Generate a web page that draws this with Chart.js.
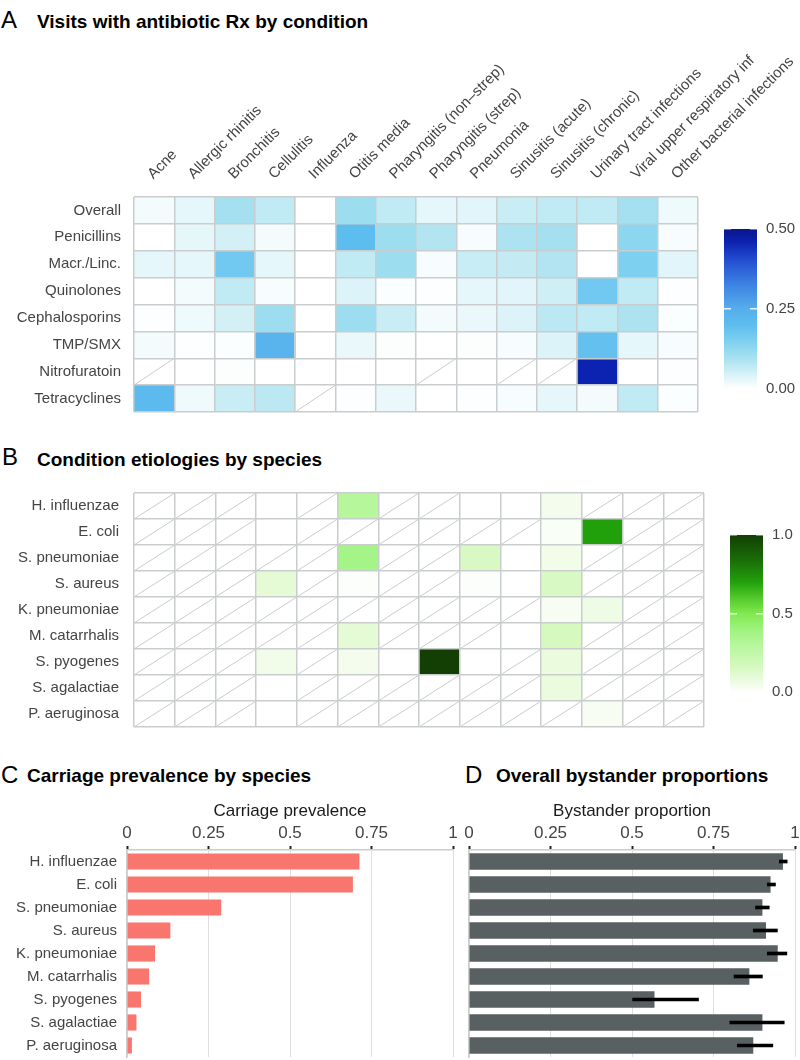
<!DOCTYPE html>
<html><head><meta charset="utf-8">
<script src="https://cdn.jsdelivr.net/npm/chart.js@4.4.1/dist/chart.umd.min.js"></script>
<style>
html,body{margin:0;padding:0;background:#fff;}
#fig{position:relative;width:800px;height:1060px;overflow:hidden;background:#fff;font-family:'Liberation Sans',Arial,Helvetica,sans-serif;}
canvas{position:absolute;}
.lbl{position:absolute;font-size:24px;line-height:1;color:#000;white-space:nowrap;}
.ttl{position:absolute;font-size:19px;font-weight:bold;line-height:1;color:#000;white-space:nowrap;}
</style></head><body>
<div id="fig">
  <div class="lbl" style="left:1px;top:7.7px">A</div>
  <div class="ttl" style="left:37px;top:12px">Visits with antibiotic Rx by condition</div>
  <div class="lbl" style="left:2px;top:444.7px">B</div>
  <div class="ttl" style="left:37px;top:450px">Condition etiologies by species</div>
  <div class="lbl" style="left:1px;top:762.7px">C</div>
  <div class="ttl" style="left:27px;top:766px">Carriage prevalence by species</div>
  <div class="lbl" style="left:465px;top:762.7px">D</div>
  <div class="ttl" style="left:496px;top:766px">Overall bystander proportions</div>

  <canvas id="cA" width="800" height="420" style="left:0;top:0;width:800px;height:420px"></canvas>
  <canvas id="cAbar" width="100" height="210" style="left:700px;top:200px;width:100px;height:210px"></canvas>
  <canvas id="cB" width="720" height="260" style="left:0;top:480px;width:720px;height:260px"></canvas>
  <canvas id="cBbar" width="100" height="210" style="left:700px;top:500px;width:100px;height:210px"></canvas>
  <canvas id="cC" width="470" height="270" style="left:0;top:790px;width:470px;height:270px"></canvas>
  <canvas id="cD" width="340" height="270" style="left:460px;top:790px;width:340px;height:270px"></canvas>
</div>
<script>
// ---------------- DATA ----------------
const conditions = ["Acne","Allergic rhinitis","Bronchitis","Cellulitis","Influenza","Otitis media",
  "Pharyngitis (non\u2013strep)","Pharyngitis (strep)","Pneumonia","Sinusitis (acute)","Sinusitis (chronic)",
  "Urinary tract infections","Viral upper respiratory inf","Other bacterial infections"];
const drugClasses = ["Overall","Penicillins","Macr./Linc.","Quinolones","Cephalosporins","TMP/SMX","Nitrofuratoin","Tetracyclines"];

// Panel A: share of visits with antibiotic Rx (null = not available)
const rxOverall       = [0.015,0.03,0.10,0.07,0.0,0.11,0.07,0.03,0.035,0.06,0.07,0.07,0.10,0.02];
const rxPenicillins   = [0.0,0.03,0.05,0.015,0.0,0.20,0.11,0.085,0.01,0.09,0.10,0.0,0.13,0.01];
const rxMacrLinc      = [0.03,0.03,0.17,0.03,0.0,0.07,0.11,0.01,0.06,0.065,0.085,0.0,0.15,0.035];
const rxQuinolones    = [0.0,0.015,0.07,0.01,0.0,0.04,0.005,0.002,0.03,0.035,0.055,0.17,0.07,0.003];
const rxCephalosporins= [0.003,0.02,0.05,0.11,0.0,0.11,0.06,0.015,0.025,0.04,0.075,0.07,0.09,0.005];
const rxTmpSmx        = [0.015,0.003,0.005,0.23,0.0,0.025,0.004,0.0,0.004,0.01,0.04,0.19,0.03,0.01];
const rxNitrofuratoin = [null,0.0,0.004,0.0,0.0,0.0,0.0,null,0.0,null,null,0.46,0.0,0.003];
const rxTetracyclines = [0.21,0.02,0.06,0.075,null,0.002,0.025,0.0,0.003,0.01,0.03,0.015,0.07,0.005];
const rxShare = [rxOverall,rxPenicillins,rxMacrLinc,rxQuinolones,rxCephalosporins,rxTmpSmx,rxNitrofuratoin,rxTetracyclines];
const rxScaleMax = 0.5, rxScaleStep = 0.25;

const species = ["H. influenzae","E. coli","S. pneumoniae","S. aureus","K. pneumoniae","M. catarrhalis","S. pyogenes","S. agalactiae","P. aeruginosa"];
// Panel B: etiology fractions (null = not an etiology)
const n = null;
const etHinf = [n,n,n,0,n,0.30,n,n,0,0,0.04,n,n,n];
const etEcol = [n,n,n,0,n,n,n,n,n,n,0.02,0.70,n,n];
const etSpne = [n,n,n,n,n,0.37,n,n,0.15,0,0.05,n,n,n];
const etSaur = [n,n,n,0.10,n,0.01,n,n,0.01,0,0.15,n,n,n];
const etKpne = [n,n,n,n,n,n,n,n,n,n,0.03,0.06,n,n];
const etMcat = [n,n,n,n,n,0.10,n,n,n,0,0.16,n,n,n];
const etSpyo = [n,n,n,0.05,n,0.04,0,1.0,0,n,0.08,n,n,n];
const etSaga = [n,n,n,0,n,n,n,n,n,n,0.08,n,n,n];
const etPaer = [n,n,n,0,n,n,n,n,n,n,n,0.03,n,n];
const etiology = [etHinf,etEcol,etSpne,etSaur,etKpne,etMcat,etSpyo,etSaga,etPaer];
const etScaleMax = 1.0, etScaleStep = 0.5;

// Panel C
const carriage = [0.713,0.693,0.289,0.133,0.086,0.068,0.043,0.029,0.015];
// Panel D
const bystander     = [0.963,0.925,0.900,0.911,0.947,0.860,0.569,0.900,0.872];
const bystanderLow  = [0.952,0.915,0.879,0.872,0.915,0.813,0.502,0.800,0.823];
const bystanderHigh = [0.976,0.940,0.921,0.946,0.975,0.900,0.704,0.967,0.932];
const proportionTicks = [0,0.25,0.5,0.75,1];

// ---------------- STYLE ----------------
const FONT = "'Liberation Sans', Arial, Helvetica, sans-serif";
Chart.defaults.font.family = FONT;
const gridGray = '#c9cdcd';
const textGray = '#444444';
const blueStops = [[0,'#ffffff'],[0.03,'#e6f7fb'],[0.06,'#c9edf5'],[0.1,'#a4e0ef'],[0.15,'#7ed0f0'],
  [0.2,'#5ebdef'],[0.25,'#56aeec'],[0.32,'#3f87e4'],[0.4,'#2450d2'],[0.46,'#0c22b0'],[0.5,'#08168a']];
const greenStops = [[0,'#ffffff'],[0.05,'#f1fce9'],[0.15,'#d8f9c3'],[0.3,'#b6f79c'],[0.4,'#9ef37e'],
  [0.5,'#80e94f'],[0.6,'#52c92c'],[0.7,'#22a00b'],[0.85,'#1a6a08'],[1,'#133f05']];

function hex2rgb(h){return [1,3,5].map(i=>parseInt(h.substr(i,2),16));}
function makeScale(stops){
  return v=>{
    if(v===null||v===undefined) return '#ffffff';
    if(v<=stops[0][0]) return stops[0][1];
    for(let k=1;k<stops.length;k++){
      if(v<=stops[k][0]){
        const t=(v-stops[k-1][0])/(stops[k][0]-stops[k-1][0]);
        const a=hex2rgb(stops[k-1][1]), b=hex2rgb(stops[k][1]);
        const c=a.map((x,i)=>Math.round(x+(b[i]-x)*t));
        return 'rgb('+c.join(',')+')';
      }
    }
    return stops[stops.length-1][1];
  };
}
const blueColor = makeScale(blueStops);
const greenColor = makeScale(greenStops);

function heatmap(id, rowLabels, colLabels, matrix, colorFn, o){
  const nC = colLabels.length;
  const naPlugin = {
    id:'naDiag'+id,
    afterDatasetsDraw(chart){
      const {ctx, scales:{x, y}} = chart;
      const h = Math.abs(y.getPixelForValue(1)-y.getPixelForValue(0));
      ctx.save(); ctx.strokeStyle = gridGray; ctx.lineWidth = 1;
      matrix.forEach((row,i)=>row.forEach((v,j)=>{
        if(v!==null) return;
        const yc = y.getPixelForValue(i);
        ctx.beginPath();
        ctx.moveTo(x.getPixelForValue(j), yc+h/2);
        ctx.lineTo(x.getPixelForValue(j+1), yc-h/2);
        ctx.stroke();
      }));
      ctx.restore();
    }
  };
  return new Chart(document.getElementById(id), {
    type:'bar',
    data:{labels:rowLabels, datasets: colLabels.map((c,j)=>({
      label:c,
      data: rowLabels.map(()=>[j,j+1]),
      backgroundColor: rowLabels.map((r,i)=>colorFn(matrix[i][j])),
      borderWidth:0, grouped:false, barPercentage:1, categoryPercentage:1
    }))},
    options:{
      indexAxis:'y', responsive:false, animation:false, events:[],
      layout:{padding:o.padding},
      plugins:{legend:{display:false}, tooltip:{enabled:false}},
      scales:{
        x:{type:'linear', min:0, max:nC, display:false},
        xc:{type:'category', labels:colLabels, position:'top', offset:true,
          grid:{offset:true, color:gridGray, lineWidth:1.5, drawTicks:false, z:1},
          border:{display:false},
          ticks:{display:o.showCols, autoSkip:false, minRotation:45, maxRotation:45, padding:o.colPad,
                 labelOffset:o.colShift, color:textGray, font:{size:15}},
          afterFit:s=>{s.height=o.topH; s.paddingLeft=0; s.paddingRight=0;}},
        y:{type:'category', offset:true,
          grid:{offset:true, color:gridGray, lineWidth:1.5, drawTicks:false, z:1},
          border:{display:false},
          ticks:{padding:o.rowPad, color:textGray, font:{size:15}},
          afterFit:s=>{s.width=o.leftW; s.paddingTop=0; s.paddingBottom=0;}}
      }
    },
    plugins:[naPlugin]
  });
}

function colorbar(id, maxV, step, decimals, stops, o){
  return new Chart(document.getElementById(id), {
    type:'bar',
    data:{labels:[''], datasets:[{data:[[0,maxV]], barPercentage:1, categoryPercentage:1, borderWidth:0,
      backgroundColor:(c)=>{
        const ch=c.chart, ys=ch.scales.y;
        if(!ch.chartArea||!ys) return '#ffffff';
        const g=ch.ctx.createLinearGradient(0, ys.getPixelForValue(0), 0, ys.getPixelForValue(maxV));
        stops.forEach(([v,col])=>g.addColorStop(Math.min(1,v/maxV), col));
        return g;
      }}]},
    options:{responsive:false, animation:false, events:[],
      layout:{padding:o.padding},
      plugins:{legend:{display:false}, tooltip:{enabled:false}},
      scales:{
        x:{display:false},
        y:{position:'right', min:0, max:maxV,
          ticks:{stepSize:step, callback:v=>Number(v).toFixed(decimals), color:textGray, font:{size:15}, padding:9},
          grid:{color:(c)=>(c.tick && c.tick.value>0) ? 'rgba(255,255,255,0.85)' : 'rgba(0,0,0,0)', lineWidth:1.5, drawTicks:false, z:1},
          border:{display:false, dash:[7,19]},
          afterFit:s=>{s.width=o.axisW; s.paddingTop=0; s.paddingBottom=0;}}
      }}
  });
}

function propAxis(title){
  return {position:'top', min:0, max:1,
    afterBuildTicks:s=>{s.ticks = proportionTicks.map(v=>({value:v}));},
    ticks:{callback:v=>String(+Number(v).toFixed(2)), color:textGray, font:{size:17}, padding:2, maxRotation:0, autoSkip:false},
    grid:{color:'#dedede', lineWidth:1, tickLength:4, tickColor:'#222222', tickWidth:2},
    border:{color:gridGray, width:1.5},
    title:{display:true, text:title, color:'#1a1a1a', font:{size:17}, padding:{top:11,bottom:0}},
    afterFit:s=>{s.height=60; s.paddingLeft=0; s.paddingRight=0;}};
}

// Panel A
heatmap('cA', drugClasses, conditions, rxShare, blueColor,
  {padding:{left:0,right:102,top:0,bottom:8}, showCols:true, colPad:14, colShift:9, topH:197, leftW:134, rowPad:13});
colorbar('cAbar', rxScaleMax, rxScaleStep, 2, blueStops, {padding:{left:24,right:0,top:29,bottom:21}, axisW:43});

// Panel B
heatmap('cB', species, conditions, etiology, greenColor,
  {padding:{left:0,right:16,top:13,bottom:13}, showCols:false, colPad:0, colShift:0, topH:0, leftW:134, rowPad:15});
colorbar('cBbar', etScaleMax, etScaleStep, 1, greenStops, {padding:{left:30,right:0,top:35,bottom:18}, axisW:37});

// Panel C
new Chart(document.getElementById('cC'), {
  type:'bar',
  data:{labels:species, datasets:[{data:carriage, backgroundColor:'#f8766d', barPercentage:0.7, categoryPercentage:1, borderWidth:0}]},
  options:{indexAxis:'y', responsive:false, animation:false, events:[],
    layout:{padding:{left:0,right:17,top:0,bottom:3}},
    plugins:{legend:{display:false}, tooltip:{enabled:false}},
    scales:{
      x:propAxis('Carriage prevalence'),
      y:{grid:{display:false, drawTicks:false}, border:{display:true,color:gridGray,width:1.5},
        ticks:{color:textGray, font:{size:15}, padding:10},
        afterFit:s=>{s.width=127; s.paddingTop=0; s.paddingBottom=0;}}
    }}
});

// Panel D
new Chart(document.getElementById('cD'), {
  type:'bar',
  data:{labels:species, datasets:[
    {data:bystander, backgroundColor:'#586062', barPercentage:0.72, categoryPercentage:1, borderWidth:0, grouped:false, order:2},
    {data:bystanderLow.map((lo,i)=>[lo,bystanderHigh[i]]), backgroundColor:'#000000', barThickness:3, borderWidth:0, grouped:false, order:1}
  ]},
  options:{indexAxis:'y', responsive:false, animation:false, events:[],
    layout:{padding:{left:9,right:5,top:0,bottom:3}},
    plugins:{legend:{display:false}, tooltip:{enabled:false}},
    scales:{
      x:propAxis('Bystander proportion'),
      y:{grid:{display:false, drawTicks:false}, border:{display:true,color:gridGray,width:1.5},
        ticks:{display:false},
        afterFit:s=>{s.width=0; s.paddingTop=0; s.paddingBottom=0;}}
    }}
});
</script>
</body></html>
